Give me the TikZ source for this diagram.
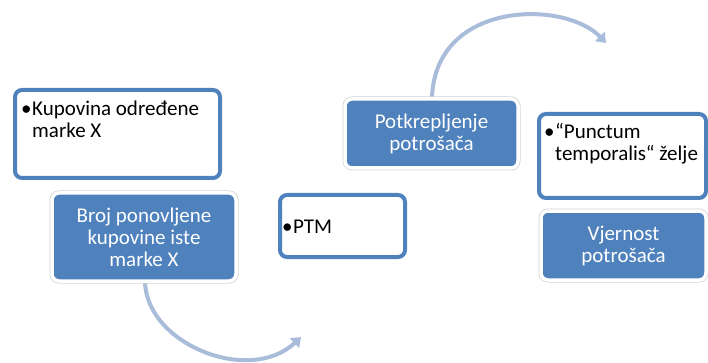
\documentclass[tikz,border=0pt]{standalone}
\usepackage{fontspec}
\setmainfont{Carlito}
\usetikzlibrary{arrows.meta}
\definecolor{accent}{HTML}{4F81BD}
\definecolor{arcblue}{HTML}{A9BDDB}
\definecolor{rimgray}{HTML}{D4D4D4}
\begin{document}
\begin{tikzpicture}[x=1pt,y=-1pt,
  txt/.style={font=\fontsize{21}{22}\selectfont},
  wbox/.style={draw=accent, line width=4pt, fill=white, rounded corners=7pt, inner sep=0pt},
  bbox/.style={preaction={draw=rimgray, line width=5pt, rounded corners=7pt},
    draw=white, line width=3.5pt, fill=accent, rounded corners=7pt, inner sep=0pt,
    text=white, align=center, txt},
  wtext/.style={anchor=north west, inner sep=0pt, align=left, txt, text=black},
  arc/.style={draw=arcblue, line width=4pt, -{Triangle[width=13pt,length=9pt]}}
]
\useasboundingbox (0,0) rectangle (708,363);
\fill[white] (0,0) rectangle (708,363);

% arcs
\coordinate (a1s) at (432,97);
\coordinate (a1e) at (606,43);
\draw[arc] (a1s) .. controls (436,0) and (565,0) .. (a1e);
\coordinate (a2s) at (145,283);
\coordinate (a2e) at (301,337);
\draw[arc] (a2s) .. controls (148,345) and (250,385) .. (a2e);

% white boxes
\node[wbox, minimum width=205pt, minimum height=88pt] (b1) at (117.5,134) {};
\node[wtext] (t1) at (21,101) {\makebox[11pt][l]{•}Kupovina određene\\\hspace*{11pt}marke X};

\node[wbox, minimum width=125pt, minimum height=62pt] (b3) at (342.5,226) {};
\node[txt, anchor=base west, inner sep=0pt] (t3) at (282,233) {\makebox[11pt][l]{•}PTM};

\node[wbox, minimum width=167pt, minimum height=84pt] (b5) at (622.5,156) {};
\node[wtext] (t5) at (544,123) {\makebox[11pt][l]{•}“Punctum\\\hspace*{11pt}temporalis“ želje};

% blue boxes
\node[bbox, minimum width=184pt, minimum height=88pt] (b2) at (144,237) {Broj ponovljene\\kupovine iste\\marke X};
\node[bbox, minimum width=173pt, minimum height=69pt] (b4) at (431.5,133.5) {Potkrepljenje\\potrošača};
\node[bbox, minimum width=165pt, minimum height=69pt] (b6) at (623.5,245.5) {Vjernost\\potrošača};
\end{tikzpicture}
\end{document}
